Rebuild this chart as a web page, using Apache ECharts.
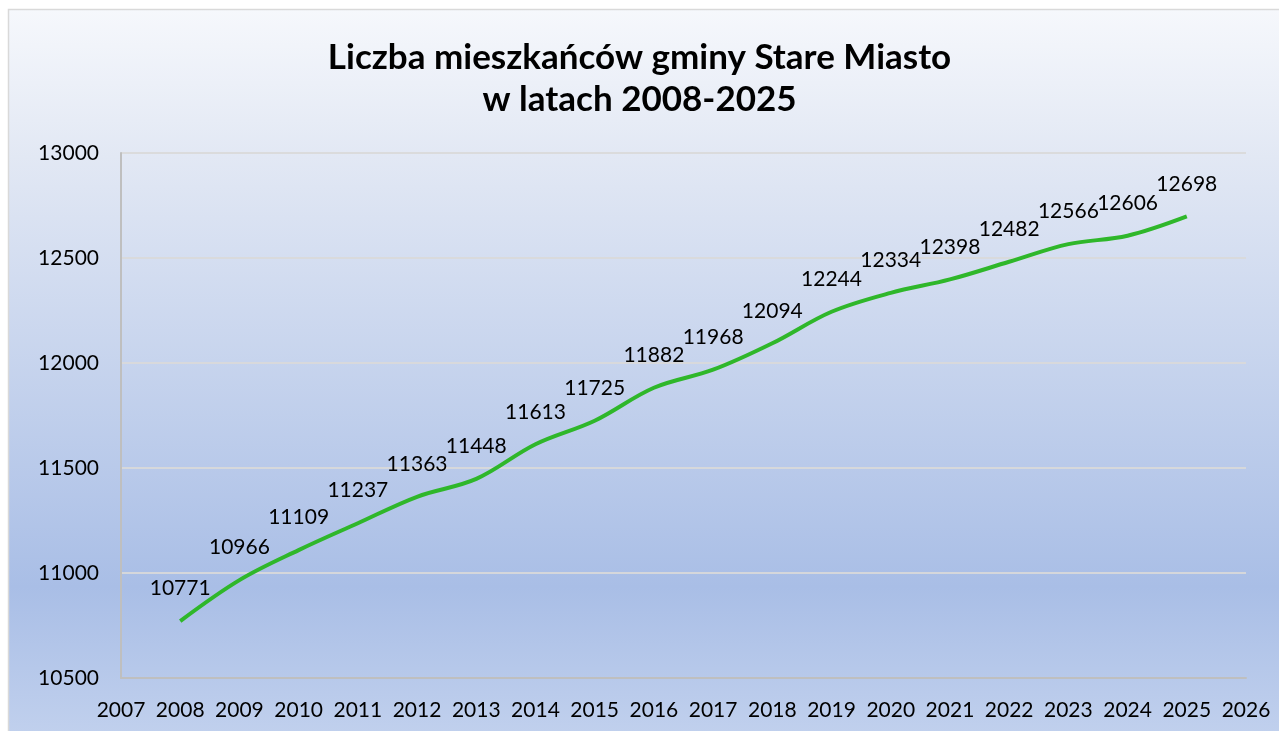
<!DOCTYPE html>
<html>
<head>
<meta charset="utf-8">
<script src="https://cdn.jsdelivr.net/npm/echarts@6/dist/echarts.min.js"></script>
<style>
  html, body { margin: 0; padding: 0; background: #fff; }
  #chart { width: 1279px; height: 731px; }
</style>
</head>
<body>
<div id="chart"></div>
<script>
// lata i liczba mieszkańców
const years = [2008, 2009, 2010, 2011, 2012, 2013, 2014, 2015, 2016, 2017, 2018, 2019, 2020, 2021, 2022, 2023, 2024, 2025]
const population = [10771, 10966, 11109, 11237, 11363, 11448, 11613, 11725, 11882, 11968, 12094, 12244, 12334, 12398, 12482, 12566, 12606, 12698]
const titleLines = ['Liczba mieszkańców gminy Stare Miasto', 'w latach 2008-2025']

const chart = echarts.init(document.getElementById('chart'))
const font = 'Lato'

chart.setOption({
  animation: false,
  backgroundColor: '#fff',
  textStyle: { fontFamily: font },
  graphic: [{
    type: 'rect',
    z: -10,
    silent: true,
    shape: { x: 8.5, y: 9.5, width: 1290, height: 740 },
    style: {
      stroke: '#d9d9d9',
      lineWidth: 1.5,
      fill: new echarts.graphic.LinearGradient(0, 0, 0, 1, [
        { offset: 0, color: '#f6f8fc' },
        { offset: 0.2, color: '#e2e8f4' },
        { offset: 0.78, color: '#a9bee6' },
        { offset: 1, color: '#c3d2ee' }
      ])
    }
  }],
  title: {
    text: titleLines.join('\n'),
    left: 'center',
    top: 32,
    textStyle: {
      fontFamily: font,
      fontWeight: 'bold',
      fontSize: 35,
      lineHeight: 42,
      color: '#000'
    }
  },
  grid: {
    left: 121,
    right: 33,
    top: 153,
    bottom: 53
  },
  xAxis: {
    type: 'value',
    min: 2007,
    max: 2026,
    interval: 1,
    axisLine: { show: true, lineStyle: { color: '#bfbfbf', width: 2 } },
    axisTick: { show: false },
    splitLine: { show: false },
    axisLabel: {
      margin: 22,
      fontSize: 21,
      color: '#000',
      fontFamily: font,
      formatter: v => String(v)
    }
  },
  yAxis: {
    type: 'value',
    min: 10500,
    max: 13000,
    interval: 500,
    axisLine: { show: true, lineStyle: { color: '#bfbfbf', width: 2 } },
    axisTick: { show: false },
    splitLine: { show: true, lineStyle: { color: 'rgba(217,217,217,0.9)', width: 2 } },
    axisLabel: {
      margin: 22,
      fontSize: 21,
      color: '#000',
      fontFamily: font,
      formatter: v => String(v)
    }
  },
  series: [{
    type: 'line',
    data: years.map((y, i) => [y, population[i]]),
    smooth: 0.35,
    symbol: 'circle',
    symbolSize: 0,
    showSymbol: true,
    itemStyle: { color: '#2fb72a' },
    lineStyle: { color: '#2fb72a', width: 4 },
    label: {
      show: true,
      position: 'top',
      distance: 22,
      fontSize: 21,
      color: '#000',
      fontFamily: font,
      formatter: p => String(p.value[1])
    }
  }]
})
</script>
</body>
</html>
